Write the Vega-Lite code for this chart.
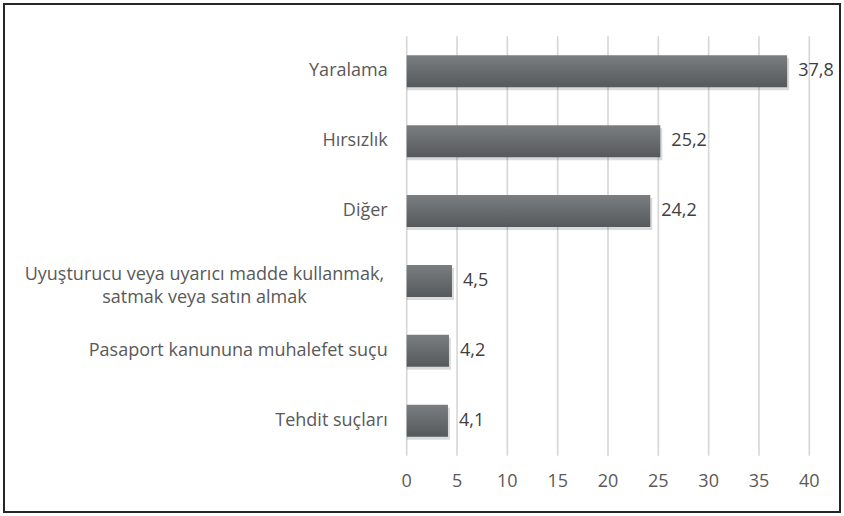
{
  "$schema": "https://vega.github.io/schema/vega-lite/v6.json",
  "width": 836,
  "height": 508,
  "padding": 4,
  "autosize": {"type": "none"},
  "background": "#ffffff",
  "config": {
    "view": {"stroke": "#262626", "strokeWidth": 2},
    "font": "Open Sans",
    "locale": {"number": {"decimal": ",", "thousands": ".", "grouping": [3], "currency": ["", " TL"]}}
  },
  "datasets": {
    "bars": [
      {"category": "Yaralama", "rank": 1, "value": 37.8},
      {"category": "Hırsızlık", "rank": 2, "value": 25.2},
      {"category": "Diğer ", "rank": 3, "value": 24.2},
      {"category": "Uyuşturucu veya uyarıcı madde kullanmak,\nsatmak veya satın almak", "rank": 4, "value": 4.5},
      {"category": "Pasaport kanununa muhalefet suçu", "rank": 5, "value": 4.2},
      {"category": "Tehdit suçları", "rank": 6, "value": 4.1}
    ],
    "ticks": [
      {"v": 0}, {"v": 5}, {"v": 10}, {"v": 15}, {"v": 20}, {"v": 25}, {"v": 30}, {"v": 35}, {"v": 40}
    ]
  },
  "encoding": {
    "x": {"type": "quantitative", "scale": {"domain": [-40.01, 43.05], "nice": false, "zero": false}, "axis": null},
    "y": {"type": "quantitative", "scale": {"domain": [0.109, 7.234], "nice": false, "zero": false, "reverse": true}, "axis": null}
  },
  "layer": [
    {
      "data": {"name": "ticks"},
      "mark": {"type": "rule", "color": "#d6d6d6", "strokeWidth": 1.6},
      "encoding": {
        "x": {"field": "v", "type": "quantitative"},
        "y": {"datum": 0.5},
        "y2": {"datum": 6.5}
      }
    },
    {
      "data": {"name": "ticks"},
      "mark": {"type": "text", "fontSize": 18, "color": "#595959", "baseline": "middle", "align": "center"},
      "encoding": {
        "x": {"field": "v", "type": "quantitative"},
        "y": {"datum": 6.88},
        "text": {"field": "v", "type": "quantitative"}
      }
    },
    {
      "data": {"name": "bars"},
      "mark": {"type": "bar", "orient": "horizontal", "height": 32, "fill": "#000000", "opacity": 0.14, "xOffset": 2, "yOffset": 3},
      "encoding": {
        "x": {"field": "value", "type": "quantitative"},
        "x2": {"datum": 0},
        "y": {"field": "rank", "type": "quantitative"}
      }
    },
    {
      "data": {"name": "bars"},
      "mark": {
        "type": "bar",
        "orient": "horizontal",
        "height": 32,
        "fill": {
          "gradient": "linear",
          "x1": 0, "y1": 0, "x2": 0, "y2": 1,
          "stops": [
            {"offset": 0, "color": "#7b7e81"},
            {"offset": 1, "color": "#56595c"}
          ]
        }
      },
      "encoding": {
        "x": {"field": "value", "type": "quantitative"},
        "x2": {"datum": 0},
        "y": {"field": "rank", "type": "quantitative"}
      }
    },
    {
      "data": {"name": "bars"},
      "mark": {"type": "text", "fontSize": 18, "color": "#404040", "align": "left", "baseline": "middle", "dx": 11},
      "encoding": {
        "x": {"field": "value", "type": "quantitative"},
        "y": {"field": "rank", "type": "quantitative"},
        "text": {"field": "value", "type": "quantitative", "format": ".1f"}
      }
    },
    {
      "data": {"name": "bars"},
      "transform": [{"filter": "indexof(datum.category, '\\n') < 0"}],
      "mark": {"type": "text", "fontSize": 18, "color": "#595959", "align": "right", "baseline": "middle", "dx": -19},
      "encoding": {
        "x": {"datum": 0},
        "y": {"field": "rank", "type": "quantitative"},
        "text": {"field": "category", "type": "nominal"}
      }
    },
    {
      "data": {"name": "bars"},
      "transform": [{"filter": "indexof(datum.category, '\\n') >= 0"}],
      "mark": {"type": "text", "fontSize": 18, "color": "#595959", "align": "center", "baseline": "middle", "lineBreak": "\n", "lineHeight": 23, "dy": -6},
      "encoding": {
        "x": {"datum": -20.1},
        "y": {"field": "rank", "type": "quantitative"},
        "text": {"field": "category", "type": "nominal"}
      }
    }
  ]
}
